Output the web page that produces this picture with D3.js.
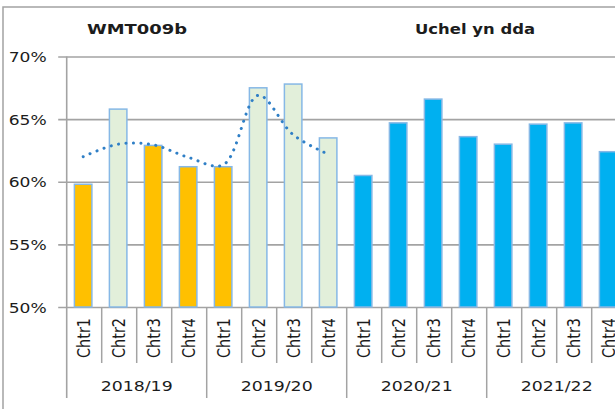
<!DOCTYPE html>
<html>
<head>
<meta charset="utf-8">
<script src="https://cdn.jsdelivr.net/npm/d3@7/dist/d3.min.js"></script>
<style>
  html, body { margin: 0; padding: 0; background: #fff; }
  svg { display: block; }
  text { font-family: "DejaVu Sans", "Liberation Sans", sans-serif; fill: #1c1c1c; }
</style>
</head>
<body>
<svg id="chart" width="615" height="409"></svg>
<script>
// Quarterly performance, 2018/19 – 2021/22
const years = ["2018/19", "2019/20", "2020/21", "2021/22"];
const quarters = ["Chtr1", "Chtr2", "Chtr3", "Chtr4"];
const values = [59.8, 65.8, 62.9, 61.2,
                61.2, 67.5, 67.8, 63.5,
                60.5, 64.7, 66.6, 63.6,
                63.0, 64.6, 64.7, 62.4];
const fills = ["amber", "green", "amber", "amber",
               "amber", "green", "green", "green",
               "blue", "blue", "blue", "blue",
               "blue", "blue", "blue", "blue"];
const trend = [62.0, 63.0, 62.95, 61.95, 61.35, 66.9, 63.75, 62.2];
const yTicks = [50, 55, 60, 65, 70];

const palette = { amber: "#FFC000", green: "#E2EFDA", blue: "#00B0F0" };

const svg = d3.select("#chart");

// category keys: one per quarter of each year
const cats = [];
years.forEach(y => quarters.forEach(q => cats.push({ year: y, q: q, key: y + "|" + q })));

const plotLeft = 66.7, bandW = 35;
const x = d3.scaleBand()
  .domain(cats.map(d => d.key))
  .range([plotLeft, plotLeft + bandW * cats.length])
  .padding(0);
const y = d3.scaleLinear().domain([50, 70]).range([307, 56.5]);

const grey = "#a3a3a3";

// outer frame (left and top edges)
svg.append("path")
  .attr("d", "M3,409 V7 H615")
  .attr("fill", "none").attr("stroke", grey).attr("stroke-width", 1.5);

// titles
svg.append("text").attr("x", 87).attr("y", 34)
  .attr("font-size", 14.5).attr("font-weight", "bold")
  .attr("textLength", 100).attr("lengthAdjust", "spacingAndGlyphs")
  .text("WMT009b");
svg.append("text").attr("x", 415).attr("y", 34)
  .attr("font-size", 14.5).attr("font-weight", "bold")
  .attr("textLength", 120).attr("lengthAdjust", "spacingAndGlyphs")
  .text("Uchel yn dda");

// horizontal gridlines with tick stubs
const yAxis = d3.axisLeft(y).tickValues(yTicks)
  .tickSize(-(615 - plotLeft + 10)).tickPadding(0)
  .tickFormat(d => d + "%");
const gy = svg.append("g").attr("transform", `translate(${plotLeft},0)`).call(yAxis);
gy.select(".domain").remove();
gy.selectAll(".tick line")
  .attr("x1", -8.5)
  .attr("stroke", grey).attr("stroke-width", 1.6);
gy.selectAll(".tick text")
  .attr("x", -20).attr("dy", "0.36em")
  .attr("font-size", 14).attr("font-family", "DejaVu Sans")
  .attr("fill", "#1c1c1c")
  .attr("textLength", 38).attr("lengthAdjust", "spacingAndGlyphs");

// bars
const barW = bandW * 0.5;
svg.append("g").selectAll("rect")
  .data(cats)
  .join("rect")
  .attr("x", d => x(d.key) + bandW * 0.22)
  .attr("width", barW)
  .attr("y", (d, i) => y(values[i]))
  .attr("height", (d, i) => y(50) - y(values[i]))
  .attr("fill", (d, i) => palette[fills[i]])
  .attr("stroke", "#86b8e6").attr("stroke-width", 1.5);

// vertical axis line
svg.append("line")
  .attr("x1", plotLeft).attr("x2", plotLeft)
  .attr("y1", y(70)).attr("y2", 398)
  .attr("stroke", grey).attr("stroke-width", 1.6);

// category separators: short between quarters, long between years
const edges = d3.range(1, cats.length + 1);
svg.append("g").selectAll("line")
  .data(edges)
  .join("line")
  .attr("x1", i => plotLeft + i * bandW)
  .attr("x2", i => plotLeft + i * bandW)
  .attr("y1", y(50))
  .attr("y2", i => (i % 4 === 0 ? 398 : 363))
  .attr("stroke", grey).attr("stroke-width", 1.5);

// rotated quarter labels
svg.append("g").selectAll("text")
  .data(cats)
  .join("text")
  .attr("transform", d => `translate(${x(d.key) + bandW / 2},338) scale(1.15,1) rotate(-90)`)
  .attr("text-anchor", "middle")
  .attr("dy", "0.36em")
  .attr("font-size", 15)
  .attr("textLength", 40).attr("lengthAdjust", "spacingAndGlyphs")
  .text(d => d.q);

// year labels
svg.append("g").selectAll("text")
  .data(years)
  .join("text")
  .attr("x", (d, i) => plotLeft + (i * 4 + 2) * bandW)
  .attr("y", 391)
  .attr("text-anchor", "middle")
  .attr("font-size", 14)
  .attr("textLength", 72).attr("lengthAdjust", "spacingAndGlyphs")
  .text(d => d);

// dotted smoothed trend line
const line = d3.line()
  .x((d, i) => x(cats[i].key) + bandW / 2 - 1)
  .y(d => y(d))
  .curve(d3.curveCatmullRom.alpha(0.5));
svg.append("path")
  .datum(trend)
  .attr("d", line)
  .attr("fill", "none")
  .attr("stroke", "#2f7fc6")
  .attr("stroke-width", 3)
  .attr("stroke-linecap", "round")
  .attr("stroke-dasharray", "0.1 7.4");
</script>
</body>
</html>
